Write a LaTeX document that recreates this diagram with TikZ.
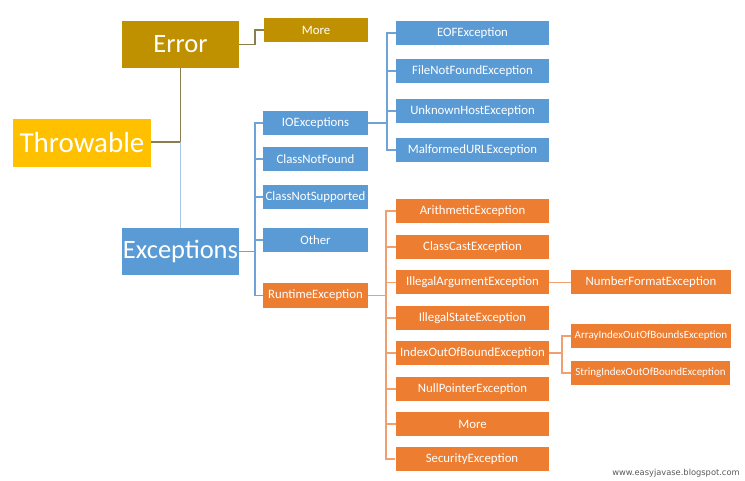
\documentclass[tikz,border=0pt]{standalone}
\usepackage{fontspec}
\setmainfont{Carlito}
\newfontfamily\wmfont{DejaVu Sans}
\definecolor{errc}{HTML}{BF9000}
\definecolor{thrc}{HTML}{FFC000}
\definecolor{bluc}{HTML}{5B9BD5}
\definecolor{oran}{HTML}{ED7D31}
\definecolor{olivel}{HTML}{8C7D50}
\definecolor{lblue}{HTML}{A9C5E6}
\definecolor{bline}{HTML}{6FA3D6}
\definecolor{oline}{HTML}{F0A070}
\tikzset{
  box/.style={inner sep=0pt, text=white, minimum height=24pt, font=\fontsize{12.8}{14}\selectfont},
  bigbox/.style={box, minimum height=47pt, font=\fontsize{26.5}{30}\selectfont},
  errbox/.style={box, fill=errc},
  bluebox/.style={box, fill=bluc},
  orbox/.style={box, fill=oran},
  smallfont/.style={font=\fontsize{11}{13}\selectfont},
  lnk/.style={line width=1.6pt},
}
\begin{document}
\begin{tikzpicture}[x=1pt,y=-1pt]
\useasboundingbox[fill=white] (0,0) rectangle (745,481);
% main nodes
\node[bigbox, fill=errc, minimum width=117pt] (err) at (180.5,44.5) {Error};
\node[bigbox, fill=thrc, minimum width=138pt, minimum height=48pt, font=\fontsize{29}{32}\selectfont] (thr) at (82,143) {Throwable};
\node[bigbox, fill=bluc, minimum width=117pt] (exc) at (180.5,251.5) {Exceptions};
\node[errbox, minimum width=104pt] (moreE) at (316,30) {More};
% exceptions children
\node[bluebox, minimum width=105pt] (io) at (315.5,123) {IOExceptions};
\node[bluebox, minimum width=105pt] (cnf) at (315.5,159) {ClassNotFound};
\node[bluebox, minimum width=105pt] (cns) at (315.5,197) {ClassNotSupported};
\node[bluebox, minimum width=105pt] (oth) at (315.5,240) {Other};
\node[orbox, minimum width=105pt, minimum height=25pt] (rt) at (315.5,295.5) {RuntimeException};
% IO children
\node[bluebox, minimum width=153pt] (eof) at (472.5,33) {EOFException};
\node[bluebox, minimum width=153pt] (fnf) at (472.5,71) {FileNotFoundException};
\node[bluebox, minimum width=153pt] (uh) at (472.5,111) {UnknownHostException};
\node[bluebox, minimum width=153pt] (murl) at (472.5,150) {MalformedURLException};
% runtime children
\node[orbox, minimum width=153pt] (ari) at (472.5,211) {ArithmeticException};
\node[orbox, minimum width=153pt] (cc) at (472.5,247) {ClassCastException};
\node[orbox, minimum width=153pt] (ia) at (472.5,282.5) {IllegalArgumentException};
\node[orbox, minimum width=153pt] (is) at (472.5,318) {IllegalStateException};
\node[orbox, minimum width=153pt] (ioob) at (472.5,353) {IndexOutOfBoundException};
\node[orbox, minimum width=153pt] (np) at (472.5,389) {NullPointerException};
\node[orbox, minimum width=153pt] (moreR) at (472.5,424) {More};
\node[orbox, minimum width=153pt] (sec) at (472,459) {SecurityException};
% third level
\node[orbox, minimum width=160pt] (nf) at (651,282.5) {NumberFormatException};
\node[orbox, smallfont, minimum width=160pt] (aioob) at (651,336) {ArrayIndexOutOfBoundsException};
\node[orbox, smallfont, minimum width=159pt] (sioob) at (650.5,373) {StringIndexOutOfBoundException};
% watermark
\node[inner sep=0pt, text=black!65, font=\wmfont\fontsize{8.3}{10}\selectfont] (wm) at (676,473) {www.easyjavase.blogspot.com};
% connectors
\coordinate (tj) at (180.5,142);
\draw[lnk, olivel] (thr.east |- tj) -- (tj);
\draw[lnk, olivel] (err.south) -- (tj);
\draw[lnk, lblue] (tj) -- (exc.north);
\draw[lnk, olivel] (err.east) -- ++(16,0) |- (moreE.west);
\foreach \c in {io,cnf,cns,oth,rt}
  \draw[lnk, bline] (exc.east) -- ++(16,0) |- (\c.west);
\foreach \c in {eof,fnf,uh,murl}
  \draw[lnk, bline] (io.east) -- ++(19,0) |- (\c.west);
\foreach \c in {ari,cc,ia,is,ioob,np,moreR,sec}
  \draw[lnk, oline] (rt.east) -- ++(18,0) |- (\c.west);
\draw[lnk, oline] (ia.east) -- (nf.west);
\foreach \c in {aioob,sioob}
  \draw[lnk, oline] (ioob.east) -- ++(13,0) |- (\c.west);
\end{tikzpicture}
\end{document}
